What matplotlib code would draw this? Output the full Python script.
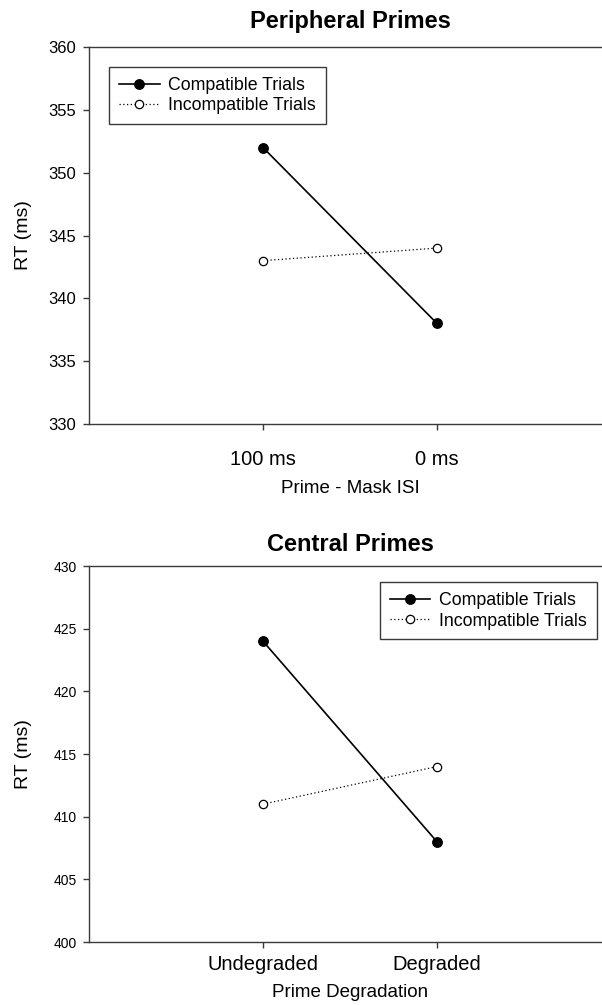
import matplotlib
matplotlib.use("Agg")
import matplotlib.pyplot as plt

plt.rcParams['font.family'] = ['Liberation Sans', 'DejaVu Sans']

# data
isi_labels = ["100 ms", "0 ms"]
periph_compatible = [352, 338]
periph_incompatible = [343, 344]

degr_labels = ["Undegraded", "Degraded"]
central_compatible = [424, 408]
central_incompatible = [411, 414]

positions = [1, 2]
W, H = 602, 1005

fig = plt.figure(figsize=(W / 100, H / 100), dpi=100)


def panel(rect, title, labels, comp, incomp, ylim, yfont, xlabel,
          title_pad, tick_pad, xlab_y, leg_loc, leg_anchor):
    ax = fig.add_axes(rect)
    ax.plot(positions, comp, color='black', lw=1.2, marker='o', ms=6.8,
            mfc='black', mec='black', label='Compatible Trials')
    ax.plot(positions, incomp, color='black', lw=0.9, ls=(0, (1, 2)),
            marker='o', ms=6, mfc='white', mec='black', mew=0.9,
            label='Incompatible Trials')
    ax.set_xlim(0, 3)
    ax.set_ylim(*ylim)
    ax.set_yticks(range(ylim[0], ylim[1] + 1, 5))
    ax.set_xticks(positions)
    ax.set_xticklabels(labels)
    for s in ['top', 'left', 'bottom']:
        ax.spines[s].set_color('#3a3a3a')
        ax.spines[s].set_linewidth(1.0)
    ax.spines['right'].set_visible(False)
    ax.tick_params(axis='y', direction='out', length=4, width=1,
                   color='#3a3a3a', labelsize=yfont, pad=5)
    ax.tick_params(axis='x', direction='out', length=4, width=1,
                   color='#3a3a3a', labelsize=14.5, pad=tick_pad)
    ax.set_title(title, fontsize=17, fontweight='bold', pad=title_pad)
    ax.set_xlabel(xlabel, fontsize=13.5)
    ax.xaxis.set_label_coords(0.5, xlab_y)
    ax.set_ylabel("RT (ms)", fontsize=14)
    ax.yaxis.set_label_coords(-0.109, 0.5)
    leg = ax.legend(loc=leg_loc, bbox_to_anchor=leg_anchor, borderaxespad=0,
                    fontsize=12.8, handlelength=2.3, handletextpad=0.5,
                    fancybox=False, framealpha=1, borderpad=0.55,
                    labelspacing=0.2)
    leg.get_frame().set_edgecolor('#3a3a3a')
    leg.get_frame().set_linewidth(1.0)
    return ax


# top panel
panel([89 / W, 1 - 424 / H, 522 / W, 377 / H], "Peripheral Primes",
      isi_labels, periph_compatible, periph_incompatible, (330, 360), 12,
      "Prime - Mask ISI", 14, 15, -0.148, 'upper left', (0.038, 0.947))

# bottom panel
panel([89 / W, 1 - 942 / H, 522 / W, 376 / H], "Central Primes",
      degr_labels, central_compatible, central_incompatible, (400, 430), 10,
      "Prime Degradation", 11, 5, -0.112, 'upper right', (0.973, 0.957))

fig.savefig("out.png", dpi=100)
